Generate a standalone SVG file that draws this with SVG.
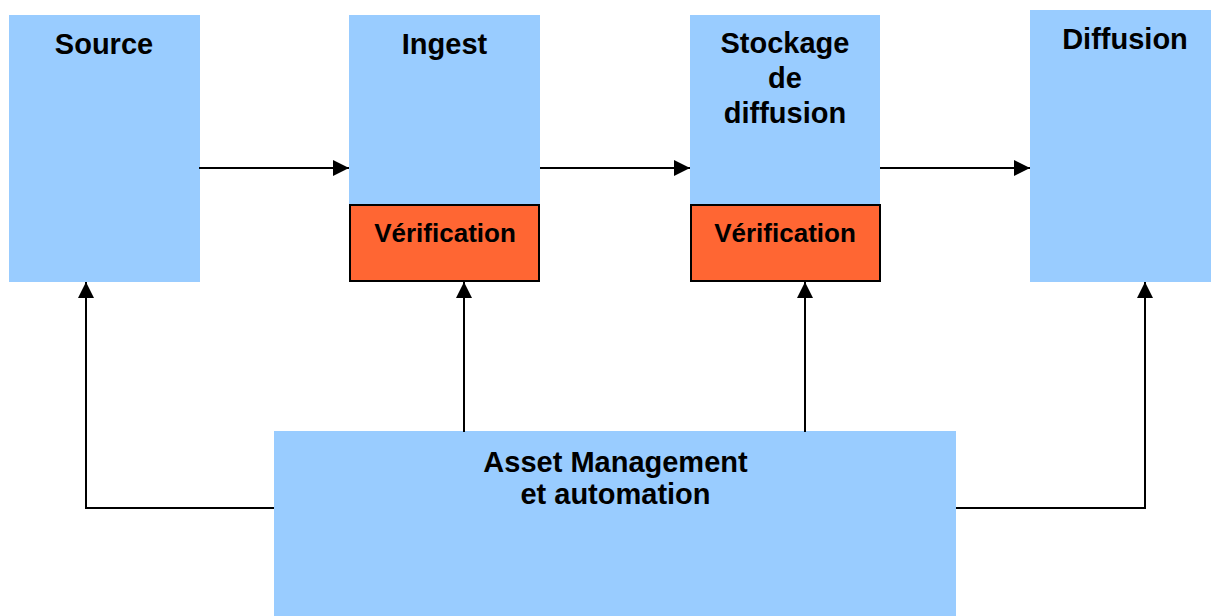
<svg xmlns="http://www.w3.org/2000/svg" width="1211" height="616" viewBox="0 0 1211 616">
<defs>
<style>
.blue{fill:#99CCFF;}
.orange{fill:#FF6633;stroke:#000;stroke-width:2;}
.t{font-family:"Liberation Sans",Arial,sans-serif;font-weight:bold;font-size:29px;fill:#000;text-anchor:middle;}
.v{font-size:26px;}
.c{fill:none;stroke:#000;stroke-width:2;}
</style>
<marker id="ah" viewBox="0 0 16 16" refX="16" refY="8" markerWidth="16" markerHeight="16" markerUnits="userSpaceOnUse" orient="auto">
<path d="M0,0 L16,8 L0,16 Z" fill="#000"/>
</marker>
</defs>
<rect width="1211" height="616" fill="#fff"/>
<g id="source">
<rect class="blue" x="9" y="15" width="191" height="267"/>
<text class="t" x="104" y="54">Source</text>
</g>
<g id="ingest">
<rect class="blue" x="349" y="15" width="191" height="191"/>
<text class="t" x="444.5" y="54">Ingest</text>
</g>
<g id="verif1">
<rect class="orange" x="350" y="205" width="189" height="76"/>
<text class="t v" x="445" y="241.5">Vérification</text>
</g>
<g id="stockage">
<rect class="blue" x="690" y="15" width="190" height="191"/>
<text class="t" x="785" y="53">Stockage</text>
<text class="t" x="785" y="88">de</text>
<text class="t" x="785" y="122.5">diffusion</text>
</g>
<g id="verif2">
<rect class="orange" x="691" y="205" width="189" height="76"/>
<text class="t v" x="785" y="241.5">Vérification</text>
</g>
<g id="diffusion">
<rect class="blue" x="1030" y="10" width="181" height="272"/>
<text class="t" x="1125" y="49">Diffusion</text>
</g>
<g id="asset">
<rect class="blue" x="274" y="431" width="682" height="185"/>
<text class="t" x="615.5" y="472">Asset Management</text>
<text class="t" x="615.5" y="504">et automation</text>
</g>
<g id="connectors">
<line class="c" x1="199" y1="168" x2="349" y2="168" marker-end="url(#ah)"/>
<line class="c" x1="540" y1="168" x2="690" y2="168" marker-end="url(#ah)"/>
<line class="c" x1="880" y1="168" x2="1030" y2="168" marker-end="url(#ah)"/>
<polyline class="c" points="274,508 86,508 86,282" marker-end="url(#ah)"/>
<line class="c" x1="464" y1="432" x2="464" y2="282" marker-end="url(#ah)"/>
<line class="c" x1="805" y1="432" x2="805" y2="282" marker-end="url(#ah)"/>
<polyline class="c" points="956,508 1145,508 1145,282" marker-end="url(#ah)"/>
</g>
</svg>
